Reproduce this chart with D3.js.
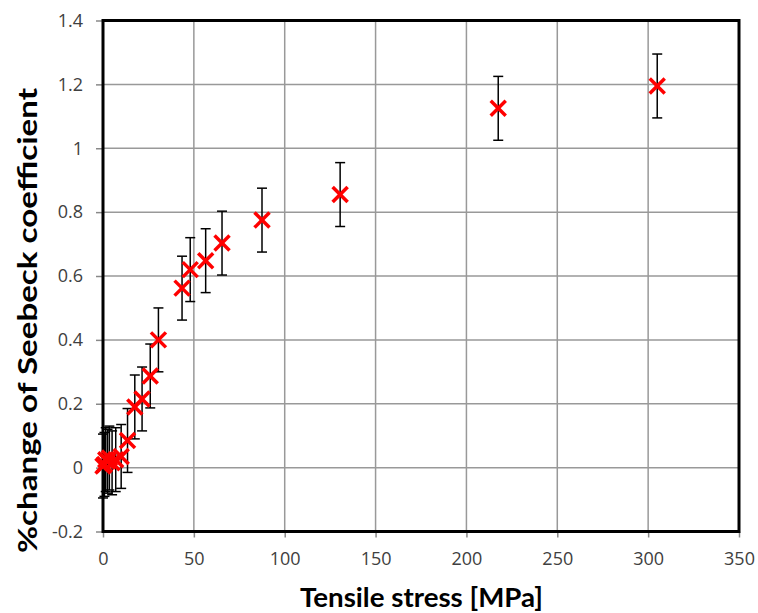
<!DOCTYPE html>
<html><head><meta charset="utf-8">
<script src="https://cdn.jsdelivr.net/npm/d3@7"></script>
<style>body{margin:0;background:#fff}svg{display:block}</style>
</head><body>
<svg id="c" width="758" height="613"></svg>
<script>
const stress = [0, 0.8, 1.5, 2.5, 3.5, 5, 7, 10, 13.5, 17.5, 21.5, 26, 30.5, 43.5, 48, 56.5, 65.5, 87.5, 130.5, 217.5, 305];
const change = [0.005, 0.01, 0.025, 0.02, 0.03, 0.015, 0.025, 0.035, 0.085, 0.19, 0.215, 0.287, 0.4, 0.562, 0.62, 0.648, 0.703, 0.775, 0.855, 1.125, 1.195];
const errorBar = [0.1, 0.1, 0.1, 0.1, 0.1, 0.1, 0.1, 0.1, 0.1, 0.1, 0.1, 0.1, 0.1, 0.1, 0.1, 0.1, 0.1, 0.1, 0.1, 0.1, 0.1];
const xTicks = [0, 50, 100, 150, 200, 250, 300, 350];
const yTicks = [-0.2, 0, 0.2, 0.4, 0.6, 0.8, 1, 1.2, 1.4];
const xTitle = "Tensile stress [MPa]";
const yTitle = "%change of Seebeck coefficient";

const svg = d3.select("#c");
const L = 103, R = 739, T = 20.5, B = 531.5;
const x = d3.scaleLinear().domain([0, 350]).range([L, R]);
const y = d3.scaleLinear().domain([-0.2, 1.4]).range([B, T]);
const titleFont = "Lato, 'Open Sans', sans-serif";
const tickFont = "'Open Sans', Lato, sans-serif";

// grid
svg.append("g").selectAll("line").data(xTicks).join("line")
  .attr("x1", d => x(d)).attr("x2", d => x(d)).attr("y1", T).attr("y2", B)
  .attr("stroke", "#999").attr("stroke-width", 1.5);
svg.append("g").selectAll("line").data(yTicks).join("line")
  .attr("x1", L).attr("x2", R).attr("y1", d => y(d)).attr("y2", d => y(d))
  .attr("stroke", "#999").attr("stroke-width", 1.5);

// axes (ticks outside)
const xAxis = d3.axisBottom(x).tickValues(xTicks).tickSize(6).tickPadding(15).tickFormat(d3.format("d"));
const yAxis = d3.axisLeft(y).tickValues(yTicks).tickSize(7).tickPadding(13).tickFormat(d => String(+d.toFixed(1)));
const gx = svg.append("g").attr("transform", `translate(0,${B})`).call(xAxis);
const gy = svg.append("g").attr("transform", `translate(${L},0)`).call(yAxis);
[gx, gy].forEach(g => {
  g.select(".domain").remove();
  g.selectAll(".tick line").attr("stroke", "#888").attr("stroke-width", 1.5);
  g.selectAll(".tick text").attr("fill", "#404040").style("font-family", tickFont).style("font-size", "18px");
});

// frame
svg.append("rect").attr("x", L).attr("y", T).attr("width", R - L).attr("height", B - T)
  .attr("fill", "none").attr("stroke", "#000").attr("stroke-width", 3);

// error bars
const data = stress.map((s, i) => ({s, c: change[i], e: errorBar[i]}));
const eg = svg.append("g").attr("stroke", "#000").attr("stroke-width", 1.5);
data.forEach(d => {
  eg.append("line").attr("x1", x(d.s)).attr("x2", x(d.s)).attr("y1", y(d.c - d.e)).attr("y2", y(d.c + d.e));
  [d.c - d.e, d.c + d.e].forEach(v => eg.append("line")
    .attr("x1", x(d.s) - 5).attr("x2", x(d.s) + 5).attr("y1", y(v)).attr("y2", y(v)));
});

// markers
const mg = svg.append("g").attr("stroke", "#ff0000").attr("stroke-width", 3.5);
const h = 7.5;
data.forEach(d => {
  const cx = x(d.s), cy = y(d.c);
  mg.append("line").attr("x1", cx - h).attr("y1", cy - h).attr("x2", cx + h).attr("y2", cy + h);
  mg.append("line").attr("x1", cx - h).attr("y1", cy + h).attr("x2", cx + h).attr("y2", cy - h);
});

// titles
svg.append("text").attr("x", 421.5).attr("y", 607).attr("text-anchor", "middle")
  .attr("textLength", 243).attr("lengthAdjust", "spacingAndGlyphs")
  .style("font-family", titleFont).style("font-weight", "bold").style("font-size", "27px").attr("fill", "#000")
  .text(xTitle);
svg.append("text").attr("transform", "translate(37,320.5) rotate(-90)").attr("text-anchor", "middle")
  .attr("textLength", 465).attr("lengthAdjust", "spacingAndGlyphs")
  .style("font-family", titleFont).style("font-weight", "bold").style("font-size", "26px").attr("fill", "#000")
  .text(yTitle);
</script>
</body></html>
